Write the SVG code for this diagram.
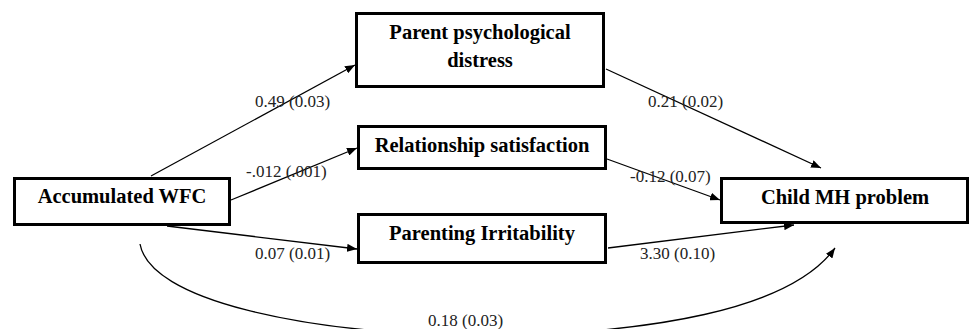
<svg xmlns="http://www.w3.org/2000/svg" width="970" height="329" viewBox="0 0 970 329">
<defs>
<style>
.box{fill:#fff;stroke:#000;stroke-width:3}
.nt{font-family:"Liberation Serif","Times New Roman",serif;font-weight:bold;font-size:20.5px;text-anchor:middle;fill:#000}
.lb{font-family:"Liberation Serif","Times New Roman",serif;font-size:17px;fill:#222}
.ln{fill:none;stroke:#000;stroke-width:1.3}
</style>
<marker id="ah" viewBox="0 0 10 8" refX="10" refY="4" markerWidth="10" markerHeight="8" markerUnits="userSpaceOnUse" orient="auto">
<path d="M0,0 L10,4 L0,8 Z" fill="#000"/>
</marker>
</defs>
<rect width="970" height="329" fill="#fff"/>
<g id="connectors">
<line class="ln" x1="151" y1="176" x2="355" y2="65" marker-end="url(#ah)"/>
<line class="ln" x1="231" y1="200" x2="357" y2="148" marker-end="url(#ah)"/>
<line class="ln" x1="167" y1="226" x2="357" y2="249" marker-end="url(#ah)"/>
<line class="ln" x1="606" y1="69" x2="821" y2="168" marker-end="url(#ah)"/>
<line class="ln" x1="607" y1="159" x2="720" y2="200" marker-end="url(#ah)"/>
<line class="ln" x1="608" y1="248" x2="794" y2="225" marker-end="url(#ah)"/>
<path class="ln" d="M140,244 C150,300 300,333 480,336 C650,334 790,310 835,248" marker-end="url(#ah)"/>
<text class="lb" x="255" y="107">0.49 (0.03)</text>
<text class="lb" x="246" y="177">-.012 (.001)</text>
<text class="lb" x="255" y="259">0.07 (0.01)</text>
<text class="lb" x="428" y="326">0.18 (0.03)</text>
<text class="lb" x="648" y="107">0.21 (0.02)</text>
<text class="lb" x="630" y="182">-0.12 (0.07)</text>
<text class="lb" x="640" y="259">3.30 (0.10)</text>
</g>
<g id="node-wfc">
<rect class="box" x="14.5" y="178.5" width="215" height="46"/>
<text class="nt" x="122" y="203">Accumulated WFC</text>
</g>
<g id="node-distress">
<rect class="box" x="356.5" y="13.5" width="247" height="73"/>
<text class="nt" x="480" y="39">Parent psychological</text>
<text class="nt" x="480" y="67">distress</text>
</g>
<g id="node-relationship">
<rect class="box" x="358.5" y="126.5" width="247" height="42"/>
<text class="nt" x="482" y="152">Relationship satisfaction</text>
</g>
<g id="node-irritability">
<rect class="box" x="358.5" y="214.5" width="247" height="48"/>
<text class="nt" x="482" y="240">Parenting Irritability</text>
</g>
<g id="node-child">
<rect class="box" x="721.5" y="178.5" width="246" height="44"/>
<text class="nt" x="845" y="204">Child MH problem</text>
</g>
</svg>
